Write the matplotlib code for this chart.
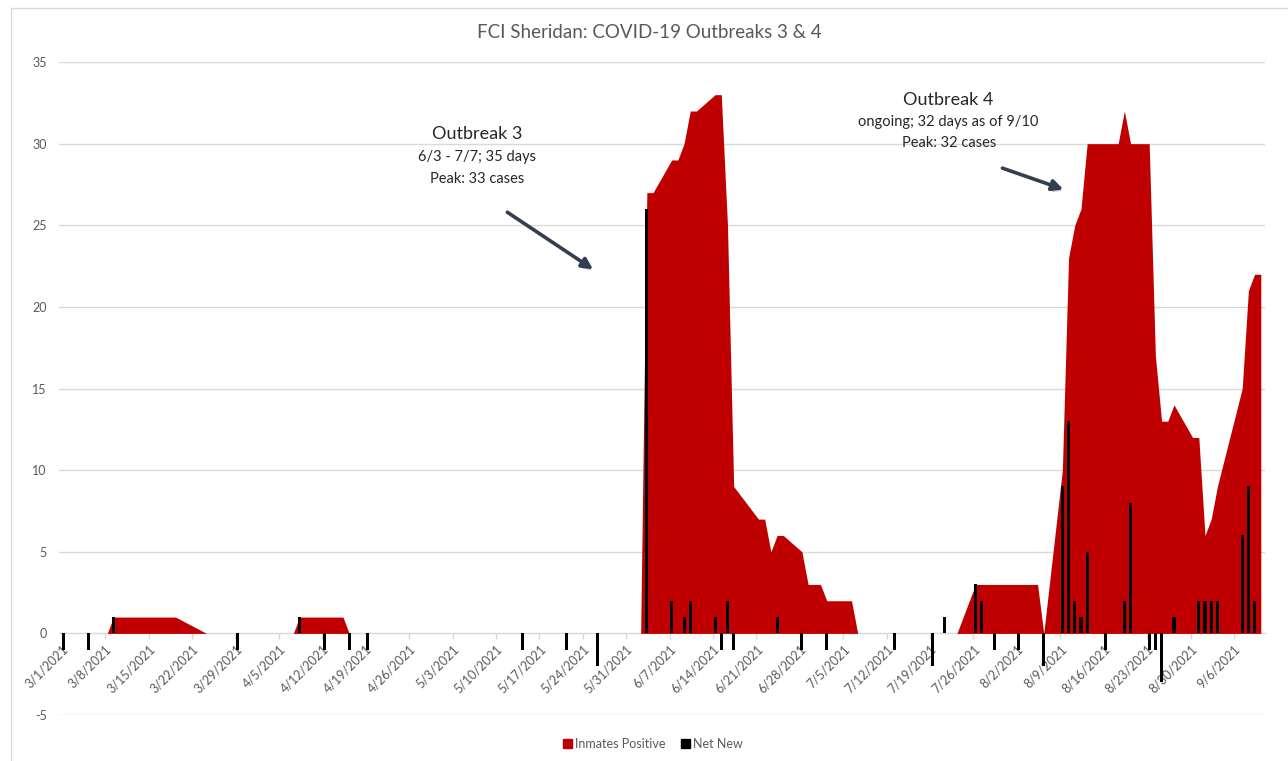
import numpy as np
import pandas as pd
import matplotlib
matplotlib.use('Agg')
import matplotlib.pyplot as plt
import matplotlib.patheffects as pe
from matplotlib.patches import Patch, Rectangle

plt.rcParams['font.family'] = ['Lato', 'DejaVu Sans']
plt.rcParams['axes.unicode_minus'] = False

# Inmates positive (area), one value per reported date
positive_dates = ['2021-03-01', '2021-03-08', '2021-03-09', '2021-03-19', '2021-03-24',
                  '2021-04-07', '2021-04-08', '2021-04-15', '2021-04-16',
                  '2021-06-02', '2021-06-03', '2021-06-04', '2021-06-07', '2021-06-08',
                  '2021-06-09', '2021-06-10', '2021-06-11', '2021-06-14', '2021-06-15',
                  '2021-06-16', '2021-06-17', '2021-06-21', '2021-06-22', '2021-06-23',
                  '2021-06-24', '2021-06-25', '2021-06-28', '2021-06-29', '2021-07-01',
                  '2021-07-02', '2021-07-06', '2021-07-07',
                  '2021-07-23', '2021-07-26', '2021-08-05', '2021-08-06',
                  '2021-08-09', '2021-08-10', '2021-08-11', '2021-08-12', '2021-08-13',
                  '2021-08-18', '2021-08-19', '2021-08-20', '2021-08-23', '2021-08-24',
                  '2021-08-25', '2021-08-26', '2021-08-27', '2021-08-30', '2021-08-31',
                  '2021-09-01', '2021-09-02', '2021-09-03', '2021-09-07', '2021-09-08',
                  '2021-09-09', '2021-09-10']
positive_values = [0, 0, 1, 1, 0,
                   0, 1, 1, 0,
                   0, 27, 27, 29, 29,
                   30, 32, 32, 33, 33,
                   25, 9, 7, 7, 5,
                   6, 6, 5, 3, 3,
                   2, 2, 0,
                   0, 3, 3, 0,
                   10, 23, 25, 26, 30,
                   30, 32, 30, 30, 17,
                   13, 13, 14, 12, 12,
                   6, 7, 9, 15, 21,
                   22, 22]

# Net new (bars)
netnew_dates = ['2021-03-01', '2021-03-05', '2021-03-09', '2021-03-29', '2021-04-08',
                '2021-04-12', '2021-04-16', '2021-04-19', '2021-05-14', '2021-05-21',
                '2021-05-26', '2021-06-03', '2021-06-07', '2021-06-09', '2021-06-10',
                '2021-06-14', '2021-06-15', '2021-06-16', '2021-06-17', '2021-06-24',
                '2021-06-28', '2021-07-02', '2021-07-13', '2021-07-19', '2021-07-21',
                '2021-07-26', '2021-07-27', '2021-07-29', '2021-08-02', '2021-08-06',
                '2021-08-09', '2021-08-10', '2021-08-11', '2021-08-12', '2021-08-13',
                '2021-08-16', '2021-08-19', '2021-08-20', '2021-08-23', '2021-08-24',
                '2021-08-25', '2021-08-27', '2021-08-31', '2021-09-01', '2021-09-02',
                '2021-09-03', '2021-09-07', '2021-09-08', '2021-09-09']
netnew_values = [-1, -1, 1, -1, 1,
                 -1, -1, -1, -1, -1,
                 -2, 26, 2, 1, 2,
                 1, -1, 2, -1, 1,
                 -1, -1, -1, -2, 1,
                 3, 2, -1, -1, -2,
                 9, 13, 2, 1, 5,
                 -1, 2, 8, -1, -1,
                 -3, 1, 2, 2, 2,
                 2, 6, 9, 2]

RED = '#C00000'
GRAY = '#595959'
GRID = '#D9D9D9'
ARROW = '#333F50'

shift = pd.Timedelta(hours=8)
pos_x = pd.to_datetime(positive_dates) + shift
new_x = pd.to_datetime(netnew_dates) + shift

fig = plt.figure(figsize=(12.88, 7.61), dpi=100)
ax = fig.add_axes([0.046, 0.0604, 0.9361, 0.8581])

ax.fill_between(pos_x, positive_values, 0, color=RED, lw=0, zorder=2)
ax.bar(new_x, netnew_values, width=0.5, color='black', zorder=3)

start = pd.Timestamp('2021-03-01')
ax.set_xlim(start - pd.Timedelta(hours=10), start + pd.Timedelta(days=194))
ax.set_ylim(-5, 35)
ax.set_yticks(np.arange(-5, 36, 5))
ax.yaxis.grid(True, color=GRID, lw=1, zorder=0)
ax.set_axisbelow(True)

ticks = pd.date_range('2021-03-01', '2021-09-06', freq='7D')
ax.set_xticks(ticks)
ax.set_xticklabels([f'{d.month}/{d.day}/{d.year}' for d in ticks])

for s in ['left', 'right', 'top']:
    ax.spines[s].set_visible(False)
ax.spines['bottom'].set_position(('data', 0))
ax.spines['bottom'].set_color(GRID)
ax.spines['bottom'].set_zorder(1)
ax.tick_params(axis='x', colors=GRID, labelcolor=GRAY, labelsize=9, length=4, width=1,
               pad=3, labelrotation=45)
ax.tick_params(axis='y', length=0, labelcolor=GRAY, labelsize=9, pad=9)
for lab in ax.get_xticklabels():
    lab.set_horizontalalignment('right')
    lab.set_verticalalignment('top')
    lab.set_rotation_mode('anchor')

fig.text(649/1288, 1 - 33/761, 'FCI Sheridan: COVID-19 Outbreaks 3 & 4',
         ha='center', va='center', fontsize=13.5, color=GRAY)

# annotations
txt = '#262626'
ax.text(pd.Timestamp('2021-05-07'), 30.6, 'Outbreak 3', ha='center', va='center', fontsize=13, color=txt)
ax.text(pd.Timestamp('2021-05-07'), 29.2, '6/3 - 7/7; 35 days', ha='center', va='center', fontsize=10.5, color=txt)
ax.text(pd.Timestamp('2021-05-07'), 27.85, 'Peak: 33 cases', ha='center', va='center', fontsize=10.5, color=txt)
ax.text(pd.Timestamp('2021-07-22'), 32.7, 'Outbreak 4', ha='center', va='center', fontsize=13, color=txt)
ax.text(pd.Timestamp('2021-07-22'), 31.3, 'ongoing; 32 days as of 9/10', ha='center', va='center', fontsize=10.5, color=txt)
ax.text(pd.Timestamp('2021-07-22'), 30.05, 'Peak: 32 cases', ha='center', va='center', fontsize=10.5, color=txt)

for tail, head in [((pd.Timestamp('2021-05-11 20:00'), 25.8), (pd.Timestamp('2021-05-25 16:00'), 22.3)),
                   ((pd.Timestamp('2021-07-30 16:00'), 28.5), (pd.Timestamp('2021-08-09 12:00'), 27.2))]:
    a = ax.annotate('', xy=head, xytext=tail,
                    arrowprops=dict(arrowstyle='-|>', lw=2.6, color=ARROW,
                                    mutation_scale=16, shrinkA=0, shrinkB=0))
    a.arrow_patch.set_path_effects([pe.SimplePatchShadow(offset=(1.5, -2), alpha=0.25), pe.Normal()])

handles = [Patch(color=RED, label='Inmates Positive'), Patch(color='black', label='Net New')]
leg = fig.legend(handles=handles, loc='center', bbox_to_anchor=(653/1288, 1 - 744/761),
                 ncol=2, frameon=False, fontsize=9, handlelength=0.7, handleheight=0.7,
                 handletextpad=0.3, columnspacing=1.2)
for t in leg.get_texts():
    t.set_color(GRAY)

fig.patches.append(Rectangle((11/1288, -0.1), 1.0, 1 - 8/761 + 0.1, transform=fig.transFigure,
                             fill=False, edgecolor=GRID, lw=1))

fig.savefig('out.png', dpi=100)
